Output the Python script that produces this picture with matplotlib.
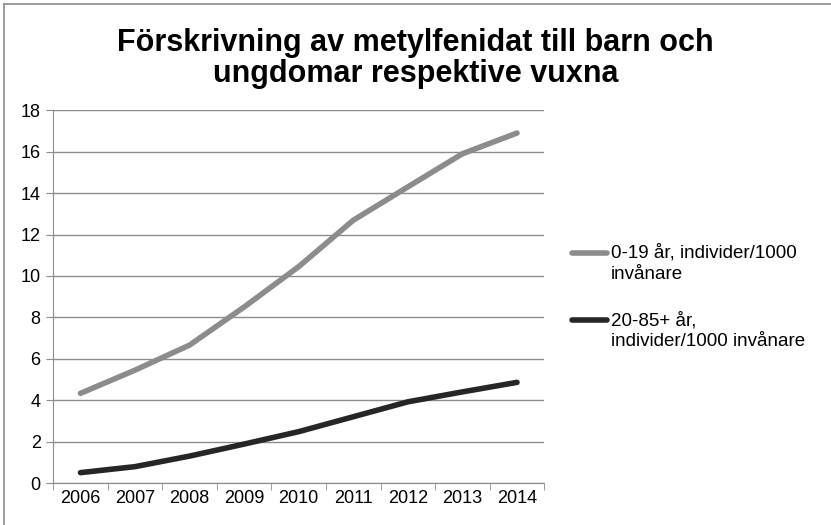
import numpy as np
import matplotlib.pyplot as plt
from matplotlib.lines import Line2D

plt.rcParams['font.family'] = ['Liberation Sans', 'DejaVu Sans']

years = ['2006', '2007', '2008', '2009', '2010', '2011', '2012', '2013', '2014']
barn = [4.33, 5.45, 6.66, 8.5, 10.45, 12.69, 14.3, 15.9, 16.9]
vuxna = [0.5, 0.79, 1.3, 1.88, 2.48, 3.2, 3.92, 4.4, 4.86]
labels = ['0-19 år, individer/1000\ninvånare', '20-85+ år,\nindivider/1000 invånare']
colors = ['#8c8c8c', '#262626']
title = 'Förskrivning av metylfenidat till barn och\nungdomar respektive vuxna'

fig = plt.figure(figsize=(8.31, 5.25), dpi=100)
ax = fig.add_axes([0.064, 0.08, 0.591, 0.71])

x = np.arange(len(years))
for vals, c in zip([barn, vuxna], colors):
    ax.plot(x, vals, color=c, lw=4, solid_capstyle='round')

ax.set_xlim(-0.5, len(years) - 0.5)
ax.set_ylim(0, 18)
ax.set_yticks(np.arange(0, 19, 2))
ax.set_xticks(x)
ax.set_xticklabels(years)
ax.set_xticks(np.arange(-0.5, len(years), 1), minor=True)
ax.tick_params(axis='x', which='major', length=0, labelsize=13, pad=5)
ax.tick_params(axis='x', which='minor', length=5, color='#8c8c8c')
ax.tick_params(axis='y', length=5, color='#8c8c8c', labelsize=13, pad=4)
ax.grid(axis='y', color='#8c8c8c', lw=1)
ax.set_axisbelow(True)
for s in ['top', 'right']:
    ax.spines[s].set_visible(False)
for s in ['left', 'bottom']:
    ax.spines[s].set_color('#8c8c8c')

fig.text(0.500, 0.888, title, ha='center', va='center', fontsize=22,
         fontweight='bold', linespacing=1.04)

# legend, drawn by hand so the line sits on the first text row
leg_y = [0.518, 0.390]
dy = 21.5 / 525
for lab, c, y in zip(labels, colors, leg_y):
    fig.add_artist(Line2D([0.688, 0.730], [y, y], color=c, lw=4,
                          solid_capstyle='round'))
    for i, part in enumerate(lab.split('\n')):
        fig.text(0.735, y - i * dy, part, ha='left', va='center', fontsize=13.5)

# outer chart border
fig.add_artist(Line2D([0.005, 1.0], [0.992, 0.992], color='#8c8c8c', lw=1.2))
fig.add_artist(Line2D([0.005, 0.005], [0.0, 0.992], color='#8c8c8c', lw=1.2))

fig.savefig('out.png', dpi=100)
